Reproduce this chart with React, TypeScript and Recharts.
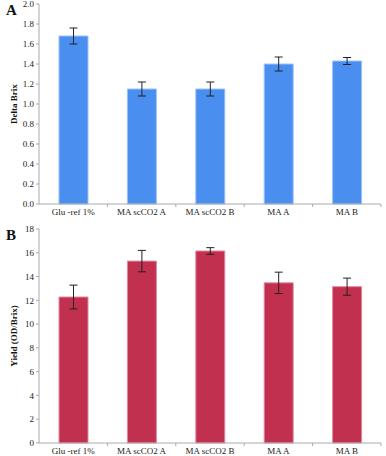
import { BarChart, Bar, XAxis, YAxis, ErrorBar } from 'recharts';

const categories = ['Glu -ref 1%', 'MA scCO2 A', 'MA scCO2 B', 'MA A', 'MA B'];
const deltaBrix = [1.68, 1.15, 1.15, 1.4, 1.43];
const deltaBrixErr = [0.08, 0.07, 0.07, 0.07, 0.035];
const yieldOd = [12.28, 15.3, 16.15, 13.47, 13.15];
const yieldOdErr = [1.0, 0.9, 0.28, 0.9, 0.72];
const ticksA = [0, 0.2, 0.4, 0.6, 0.8, 1.0, 1.2, 1.4, 1.6, 1.8, 2.0];
const ticksB = [0, 2, 4, 6, 8, 10, 12, 14, 16, 18];

const FONT = '"Liberation Serif", "DejaVu Serif", serif';

const dataA = categories.map((name, i) => ({ name, value: deltaBrix[i], err: deltaBrixErr[i] }));
const dataB = categories.map((name, i) => ({ name, value: yieldOd[i], err: yieldOdErr[i] }));

function CatTick(props: any) {
  const { x, y, payload } = props;
  const half = payload && payload.offset ? payload.offset : 34;
  return (
    <g>
      <line x1={x + half} y1={y} x2={x + half} y2={y + 3} stroke="#aaa" />
      <text x={x} y={y + 11} textAnchor="middle" fontSize={9} fill="#222" fontFamily={FONT}>
        {payload.value}
      </text>
    </g>
  );
}

interface PanelProps {
  data: { name: string; value: number; err: number }[];
  ticks: number[];
  max: number;
  fmt: (v: number) => string;
  label: string;
  letter: string;
  color: string;
  edge: string;
  height: number;
  top: number;
  xHeight: number;
}

function Panel({ data, ticks, max, fmt, label, letter, color, edge, height, top, xHeight }: PanelProps) {
  return (
    <div style={{ position: 'relative', width: 386, height }}>
      <BarChart width={386} height={height} data={data} margin={{ top, right: 5, left: 0, bottom: 0 }}>
        <XAxis
          dataKey="name"
          height={xHeight}
          interval={0}
          axisLine={{ stroke: '#aaa' }}
          tickLine={false}
          tickSize={0}
          tickMargin={0}
          tick={<CatTick />}
        />
        <YAxis
          domain={[0, max]}
          ticks={ticks}
          width={39}
          interval={0}
          tickFormatter={fmt}
          axisLine={{ stroke: '#aaa' }}
          tickLine={{ stroke: '#aaa' }}
          tickSize={3}
          tickMargin={2}
          tick={{ fontSize: 9, fill: '#222', fontFamily: FONT }}
          label={{
            value: label,
            angle: -90,
            position: 'insideLeft',
            offset: 14,
            style: { fontSize: 9, fontWeight: 'bold', fill: '#111', fontFamily: FONT, textAnchor: 'middle' },
          }}
        />
        <Bar dataKey="value" fill={color} stroke={edge} strokeWidth={1} barSize={29} isAnimationActive={false}>
          <ErrorBar dataKey="err" width={4} stroke="#222" strokeWidth={1} isAnimationActive={false} />
        </Bar>
      </BarChart>
      <div
        style={{
          position: 'absolute',
          left: 6,
          top: 2,
          fontFamily: FONT,
          fontWeight: 'bold',
          fontSize: 15,
          color: '#111',
        }}
      >
        {letter}
      </div>
    </div>
  );
}

export default function App() {
  return (
    <div style={{ position: 'absolute', left: 0, top: 0, width: 386, height: 456, background: '#fff' }}>
      <Panel
        data={dataA}
        ticks={ticksA}
        max={2}
        fmt={(v) => v.toFixed(1)}
        label="Delta Brix"
        letter="A"
        color="#4a8ef0"
        edge="#9cc2f7"
        height={225}
        top={4}
        xHeight={21}
      />
      <Panel
        data={dataB}
        ticks={ticksB}
        max={18}
        fmt={(v) => String(v)}
        label="Yield (OD/Brix)"
        letter="B"
        color="#c2304f"
        edge="#e08aa0"
        height={231}
        top={4}
        xHeight={13}
      />
    </div>
  );
}
